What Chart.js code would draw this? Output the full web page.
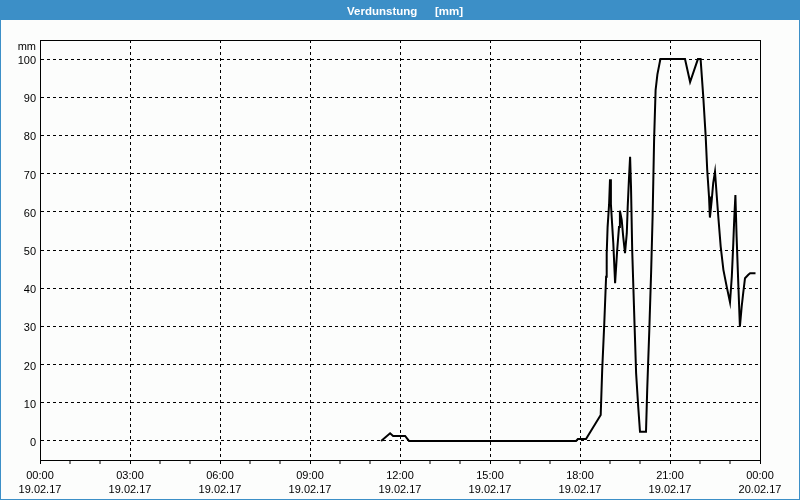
<!DOCTYPE html>
<html><head><meta charset="utf-8">
<script src="https://cdn.jsdelivr.net/npm/chart.js@4/dist/chart.umd.min.js"></script>
<style>html,body{margin:0;padding:0;background:#fff;}canvas{display:block;}</style>
</head><body>
<canvas id="c" width="800" height="500"></canvas>
<script>
const chartTitle = 'Verdunstung';
const titleUnit = '[mm]';
const yUnit = 'mm';
const hours = [11.37,11.67,11.77,12.17,12.30,17.87,17.93,18.20,18.69,18.74,18.81,18.87,18.89,18.92,18.97,19.00,19.03,19.11,19.17,19.24,19.30,19.33,19.39,19.44,19.50,19.56,19.59,19.63,19.67,19.70,19.74,19.78,19.82,19.87,19.94,20.00,20.20,20.24,20.31,20.37,20.42,20.47,20.52,20.58,20.68,21.50,21.67,21.93,22.02,22.11,22.19,22.24,22.30,22.33,22.39,22.44,22.50,22.56,22.61,22.69,22.78,22.89,23.00,23.06,23.11,23.14,23.18,23.22,23.28,23.33,23.39,23.44,23.50,23.61,23.67,23.85];
const values = [0,2,1.3,1.3,0,0,0.5,0.5,6.8,18.6,30.9,43,49,56,62,68.5,62,51.8,41.3,50,56,60.3,57.9,53.5,49.2,54.4,61.3,68.3,74.4,66.6,50,40,30,17.8,9,2.4,2.4,13.3,29,44,58.7,78.8,91.9,96,100,100,94,100,100,90,79.7,71,64,58.5,63,67.5,70.5,64,58.7,50.9,44.8,40.4,36.3,43,51.8,57.9,64.4,53.5,40.4,29.9,35.2,38.7,42.6,43.5,43.9,43.9];
const yTicks = [0,10,20,30,40,50,60,70,80,90,100];
const xTickHours = [0,3,6,9,12,15,18,21,24];
const xTimeLabels = ['00:00','03:00','06:00','09:00','12:00','15:00','18:00','21:00','00:00'];
const xDateLabels = ['19.02.17','19.02.17','19.02.17','19.02.17','19.02.17','19.02.17','19.02.17','19.02.17','20.02.17'];

const FONT = 'Liberation Sans';
const BLUE = '#3c8fc7';
const BG = '#fcfdfc';

const decor = {
  id: 'decor',
  beforeDraw(chart) {
    const ctx = chart.ctx;
    ctx.save();
    ctx.fillStyle = BG;
    ctx.fillRect(0, 0, 800, 500);
    ctx.fillStyle = BLUE;
    ctx.fillRect(0, 0, 800, 20);
    ctx.strokeStyle = BLUE;
    ctx.lineWidth = 1;
    ctx.strokeRect(0.5, 0.5, 799, 499);
    ctx.fillStyle = '#fff';
    ctx.font = 'bold 11.5px "' + FONT + '"';
    ctx.textBaseline = 'alphabetic';
    ctx.textAlign = 'left';
    ctx.fillText(chartTitle, 347, 15);
    ctx.fillText(titleUnit, 435, 15);
    ctx.restore();
  },
  afterDraw(chart) {
    const ctx = chart.ctx;
    const a = chart.chartArea;
    ctx.save();
    ctx.strokeStyle = '#000';
    ctx.lineWidth = 1;
    ctx.setLineDash([]);
    ctx.strokeRect(Math.round(a.left) + 0.5, Math.round(a.top) + 0.5, Math.round(a.right - a.left), Math.round(a.bottom - a.top));
    ctx.fillStyle = '#000';
    ctx.font = '11px "' + FONT + '"';
    ctx.textAlign = 'right';
    ctx.textBaseline = 'alphabetic';
    ctx.fillText(yUnit, 36, 50);
    ctx.restore();
  }
};

const isMajor = v => xTickHours.indexOf(v) !== -1;

new Chart(document.getElementById('c'), {
  type: 'line',
  data: {
    datasets: [{
      data: hours.map((h, i) => ({x: h, y: values[i]})),
      borderColor: '#000',
      borderWidth: 2,
      pointRadius: 0,
      tension: 0,
      fill: false
    }]
  },
  options: {
    responsive: false,
    animation: false,
    devicePixelRatio: 1,
    layout: {padding: {left: 0, top: 40, right: 40, bottom: 0}},
    plugins: {legend: {display: false}, tooltip: {enabled: false}, title: {display: false}},
    scales: {
      x: {
        type: 'linear',
        min: 0, max: 24,
        afterFit: s => { s.height = 40; },
        afterBuildTicks: s => { s.ticks = Array.from({length: 25}, (_, i) => ({value: i})); },
        grid: {
          color: c => (c.tick && isMajor(c.tick.value)) ? '#000' : 'rgba(0,0,0,0)',
          lineWidth: c => (c.tick && isMajor(c.tick.value)) ? 1 : 0,
          drawTicks: true,
          tickLength: 4,
          tickColor: '#000',
          tickWidth: 1,
          tickBorderDash: []
        },
        border: {display: true, color: '#000', width: 1, dash: [3, 3]},
        ticks: {
          autoSkip: false,
          maxRotation: 0,
          padding: 4,
          color: '#000',
          font: {family: FONT, size: 11, lineHeight: 1.36},
          callback: v => {
            const i = xTickHours.indexOf(v);
            return i === -1 ? '' : [xTimeLabels[i], xDateLabels[i]];
          }
        }
      },
      y: {
        min: -5, max: 105,
        afterFit: s => { s.width = 40; },
        afterBuildTicks: s => { s.ticks = yTicks.map(v => ({value: v})); },
        grid: {color: '#000', lineWidth: 1, drawTicks: false},
        border: {display: true, color: '#000', width: 1, dash: [3, 3]},
        ticks: {padding: 4, labelOffset: 2, color: '#000', font: {family: FONT, size: 11}}
      }
    }
  },
  plugins: [decor]
});
</script>
</body></html>
